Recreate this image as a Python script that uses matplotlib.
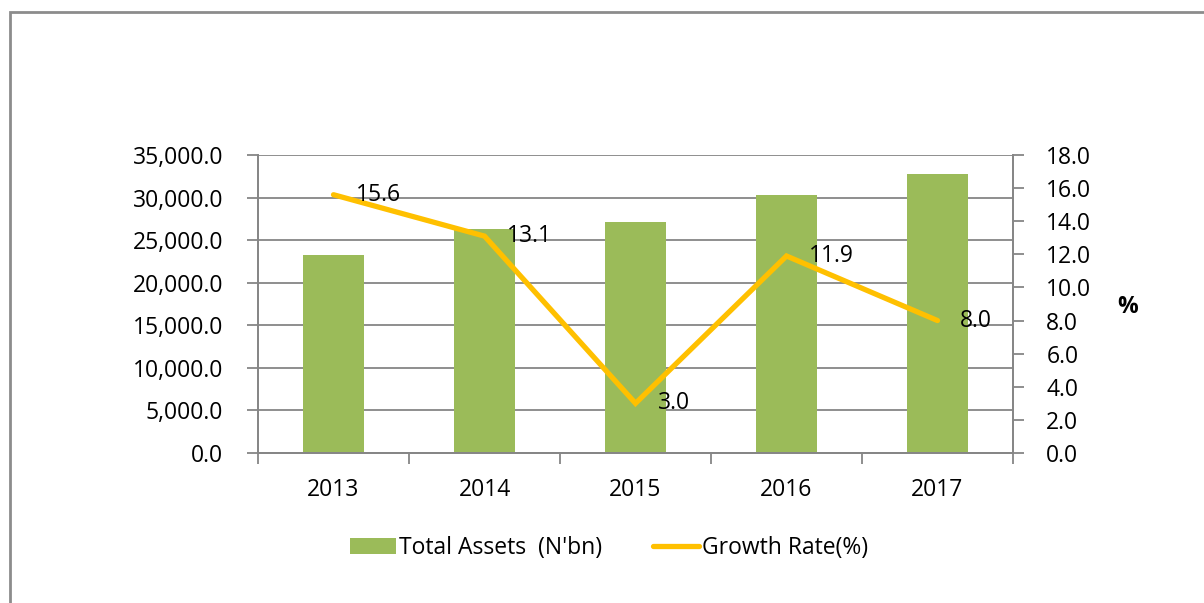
import matplotlib
matplotlib.use('Agg')
from matplotlib import pyplot as plt
from matplotlib.patches import Rectangle
import numpy as np

anios = ['2013', '2014', '2015', '2016', '2017']
activos_totales = [23250, 26300, 27090, 30310, 32730]  # N'bn
tasa_crecimiento = [15.6, 13.1, 3.0, 11.9, 8.0]  # %

verde = '#9BBB59'
amarillo = '#FFC000'
gris = '#868686'

plt.rcParams['font.family'] = ['Open Sans', 'DejaVu Sans']
tam = 16.5

fig = plt.figure(figsize=(12.04, 6.03), dpi=100)
ax = fig.add_axes([258/1204, 1 - 453/603, (1013 - 258)/1204, (453 - 155)/603])
ax2 = ax.twinx()

x = np.arange(len(anios))
ax.bar(x, activos_totales, width=0.4, color=verde, label="Total Assets  (N'bn)", zorder=2)
ax.set_xlim(-0.5, len(anios) - 0.5)
ax.set_ylim(0, 35000)
ax.set_yticks(np.arange(0, 35001, 5000))
ax.set_yticklabels([f'{v:,.1f}' for v in np.arange(0, 35001, 5000)])
ax.yaxis.grid(True, color=gris, linewidth=1.3, zorder=0)
ax.set_axisbelow(True)

# ticks del eje x en los limites de cada categoria
ax.set_xticks(np.arange(-0.5, len(anios), 1.0))
ax.set_xticklabels([])
ax.set_xticks(x, minor=True)
ax.set_xticklabels(anios, minor=True)
ax.tick_params(axis='x', which='major', direction='out', length=8, width=1.3, color=gris)
ax.tick_params(axis='x', which='minor', length=0, pad=18, labelsize=tam)
ax.tick_params(axis='y', direction='out', length=8, width=1.3, color=gris, pad=17, labelsize=tam)

linea, = ax2.plot(x, tasa_crecimiento, color=amarillo, linewidth=3.8,
                  solid_capstyle='round', solid_joinstyle='miter', label='Growth Rate(%)', zorder=3)
ax2.set_ylim(0, 18)
ax2.set_yticks(np.arange(0, 18.1, 2))
ax2.set_yticklabels([f'{v:.1f}' for v in np.arange(0, 18.1, 2)])
ax2.tick_params(axis='y', direction='out', length=8, width=1.3, color=gris, pad=16, labelsize=tam)
for xi, v in zip(x, tasa_crecimiento):
    ax2.annotate(f'{v:.1f}', (xi, v), xytext=(16, 0), textcoords='offset points',
                 ha='left', va='center', fontsize=tam, zorder=4)
ax2.text(1128/1204, 1 - 307/603, '%', transform=fig.transFigure, ha='center', va='center',
         fontsize=tam, fontweight='bold')

for a in (ax, ax2):
    a.spines['top'].set_visible(False)
    for s in ('left', 'right', 'bottom'):
        a.spines[s].set_color(gris)
        a.spines[s].set_linewidth(1.3)

# marco del grafico
fig.patches.append(Rectangle((10/1204, -0.1), 1.2, 1.1 - 12/603, transform=fig.transFigure,
                             fill=False, edgecolor='#8C8C8C', linewidth=2.0))

fig.legend(handles=[ax.patches[0], linea], labels=["Total Assets  (N'bn)", 'Growth Rate(%)'],
           loc='center', bbox_to_anchor=(0.506, 1 - 548/603), ncol=2, frameon=False,
           fontsize=tam, handlelength=2.0, handletextpad=0.15, columnspacing=2.2)

plt.savefig('out.png', dpi=100)
